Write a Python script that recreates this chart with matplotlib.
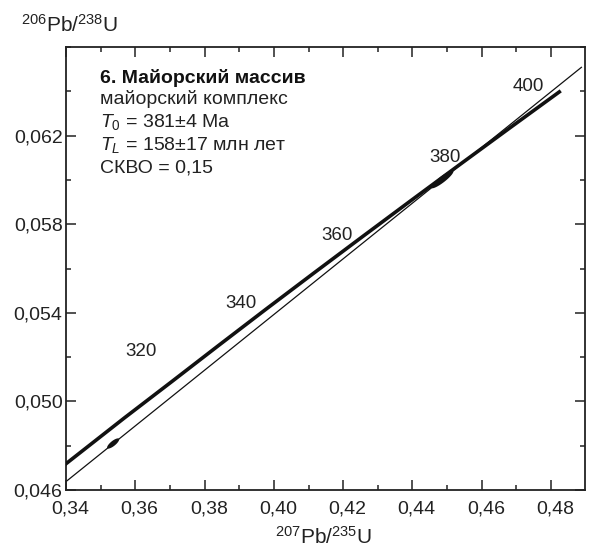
import numpy as np
import matplotlib
matplotlib.use("Agg")
import matplotlib.pyplot as plt
from matplotlib.ticker import MultipleLocator, FuncFormatter
from matplotlib.transforms import offset_copy, ScaledTranslation

plt.rcParams['font.family'] = ['Liberation Sans', 'DejaVu Sans']
plt.rcParams['mathtext.fontset'] = 'custom'
plt.rcParams['mathtext.rm'] = 'Liberation Sans'
plt.rcParams['mathtext.it'] = 'Liberation Sans:italic'
plt.rcParams['mathtext.bf'] = 'Liberation Sans:bold'

# concordia curve, 207Pb/235U vs 206Pb/238U
conc_age = [295, 300, 310, 320, 330, 340, 350, 360, 370, 380, 390, 400]
conc_x = [0.3371, 0.3437, 0.3569, 0.3705, 0.3840, 0.3977, 0.4115, 0.4255, 0.4396, 0.4539, 0.4683, 0.4828]
conc_y = [0.04683, 0.04764, 0.04926, 0.05089, 0.05252, 0.05416, 0.05579, 0.05743, 0.05907, 0.06072, 0.06237, 0.06402]

# age marks along concordia
mark_age = [320, 340, 360, 380, 400]

# discordia chord (from lower intercept towards upper one and beyond)
disc_x = [0.3400, 0.4889]
disc_y = [0.04638, 0.06510]

# analyses: ratio, 1 sigma errors, correlation
pt_x = [0.3536, 0.4486]
pt_y = [0.04810, 0.06002]
pt_sx = [0.00087, 0.00161]
pt_sy = [0.000115, 0.000200]
pt_rho = [0.79, 0.90]

xtick_vals = [0.34, 0.36, 0.38, 0.40, 0.42, 0.44, 0.46, 0.48]
ytick_vals = [0.046, 0.050, 0.054, 0.058, 0.062]

fig = plt.figure(figsize=(5.92, 5.50), dpi=100)
ax = fig.add_axes([66 / 592, 60 / 550, 519 / 592, 443 / 550])

# discordia (thin) and concordia (thick)
ax.plot(disc_x, disc_y, color='#111111', lw=0.9, solid_capstyle='butt', zorder=2)
ax.plot(conc_x, conc_y, color='#111111', lw=2.6, solid_capstyle='butt', zorder=3)

# 2-sigma error ellipses
t = np.linspace(0, 2 * np.pi, 200)
for x0, y0, sx, sy, r in zip(pt_x, pt_y, pt_sx, pt_sy, pt_rho):
    cov = np.array([[sx * sx, r * sx * sy], [r * sx * sy, sy * sy]])
    vals, vecs = np.linalg.eigh(cov)
    circ = np.vstack([np.cos(t), np.sin(t)]) * 2 * np.sqrt(vals)[:, None]
    pts = vecs @ circ
    ax.fill(x0 + pts[0], y0 + pts[1], color='#111111', zorder=4, lw=0)

# age labels to the left of each mark
label_off = {320: (-11, 22), 340: (-7, 4), 360: (-7, 1), 380: (0, 5), 400: (-12, 3)}
for a in mark_age:
    i = conc_age.index(a)
    dx, dy = label_off[a]
    tr = offset_copy(ax.transData, fig=fig, x=dx, y=dy, units='points')
    ax.text(conc_x[i], conc_y[i], str(a), transform=tr, ha='right', va='center',
            fontsize=13.5, color='#222222', zorder=5)

ax.set_xlim(0.34, 0.4898)
ax.set_ylim(0.046, 0.066)

ax.set_xticks(xtick_vals)
ax.set_yticks(ytick_vals)
ax.xaxis.set_minor_locator(MultipleLocator(0.01))
ax.yaxis.set_minor_locator(MultipleLocator(0.002))
ax.xaxis.set_major_formatter(FuncFormatter(lambda v, p: f"{v:.2f}".replace('.', ',')))
ax.yaxis.set_major_formatter(FuncFormatter(lambda v, p: f"{v:.3f}".replace('.', ',')))

ax.tick_params(which='both', direction='in', top=True, right=True, width=1.1, colors='#222222')
ax.tick_params(which='major', length=7, labelsize=14)
ax.tick_params(which='minor', length=3.6)
ax.tick_params(axis='x', which='major', pad=7.5)
ax.tick_params(axis='y', which='major', pad=2.5)
for s in ax.spines.values():
    s.set_linewidth(1.3)
    s.set_color('#222222')

# nudge x tick labels a little to the right
shift = ScaledTranslation(3 / 72, 0, fig.dpi_scale_trans)
for lab in ax.get_xticklabels():
    lab.set_transform(lab.get_transform() + shift)

# caption block
fig.text(100 / 592, 1 - 78 / 550, "6. Майорский массив",
         fontsize=14, fontweight='bold', color='#111111', va='center')
lines = ["майорский комплекс",
         r"$T_0$ = 381±4 Ma",
         r"$T_L$ = 158±17 млн лет",
         "СКВО = 0,15"]
for k, s in enumerate(lines):
    fig.text(100 / 592, 1 - (99 + 23 * k) / 550, s, fontsize=14, color='#222222', va='center')

# axis titles
fig.text(21 / 592, 1 - 25 / 550, r"$^{206}$Pb/$^{238}$U", fontsize=15, color='#222222', va='center')
fig.text(324 / 592, 1 - 537 / 550, r"$^{207}$Pb/$^{235}$U", fontsize=15, color='#222222',
         va='center', ha='center')

fig.savefig("out.png", dpi=100)
